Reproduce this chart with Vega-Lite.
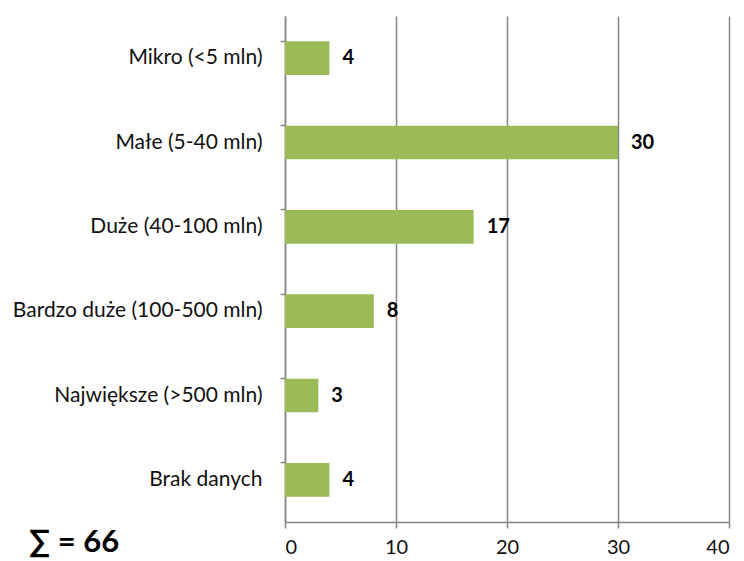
{
  "$schema": "https://vega.github.io/schema/vega-lite/v6.json",
  "width": 444,
  "height": 506,
  "autosize": {"type": "none"},
  "padding": {"left": 285, "top": 16, "right": 15, "bottom": 39},
  "background": "white",
  "title": {
    "text": "∑ = 66",
    "orient": "bottom",
    "anchor": "start",
    "frame": "group",
    "dx": -256,
    "offset": -29,
    "fontSize": 31,
    "fontWeight": "bold",
    "font": "Lato",
    "color": "black"
  },
  "data": {
    "values": [
      {"kategoria": "Mikro (<5 mln)", "liczba": 4},
      {"kategoria": "Małe (5-40 mln)", "liczba": 30},
      {"kategoria": "Duże (40-100 mln)", "liczba": 17},
      {"kategoria": "Bardzo duże (100-500 mln)", "liczba": 8},
      {"kategoria": "Największe (>500 mln)", "liczba": 3},
      {"kategoria": "Brak danych", "liczba": 4}
    ]
  },
  "config": {
    "view": {"stroke": null},
    "font": "Lato"
  },
  "encoding": {
    "y": {
      "field": "kategoria",
      "type": "nominal",
      "sort": null,
      "scale": {"paddingInner": 0.6, "paddingOuter": 0.3},
      "axis": {
        "title": null,
        "bandPosition": 0,
        "domainColor": "#868686",
        "domainWidth": 1.5,
        "tickColor": "#868686",
        "tickWidth": 1.5,
        "tickSize": 5,
        "labelPadding": 18,
        "labelFontSize": 21,
        "labelLimit": 300,
        "labelColor": "#111111",
        "labelFont": "Lato"
      }
    },
    "x": {
      "field": "liczba",
      "type": "quantitative",
      "scale": {"domain": [0, 40], "nice": false},
      "axis": {
        "title": null,
        "values": [0, 10, 20, 30, 40],
        "grid": true,
        "gridColor": "#868686",
        "gridWidth": 1.5,
        "domainColor": "#868686",
        "domainWidth": 1.5,
        "tickColor": "#868686",
        "tickWidth": 1.5,
        "tickSize": 6,
        "labelPadding": 9,
        "labelFontSize": 20,
        "labelColor": "#111111",
        "labelFont": "Lato"
      }
    }
  },
  "layer": [
    {"mark": {"type": "bar", "color": "#9BBB59"}},
    {
      "mark": {
        "type": "text",
        "align": "left",
        "baseline": "middle",
        "dx": 13,
        "fontSize": 20,
        "fontWeight": "bold",
        "font": "Lato",
        "color": "black"
      },
      "encoding": {"text": {"field": "liczba", "type": "quantitative"}}
    }
  ]
}
